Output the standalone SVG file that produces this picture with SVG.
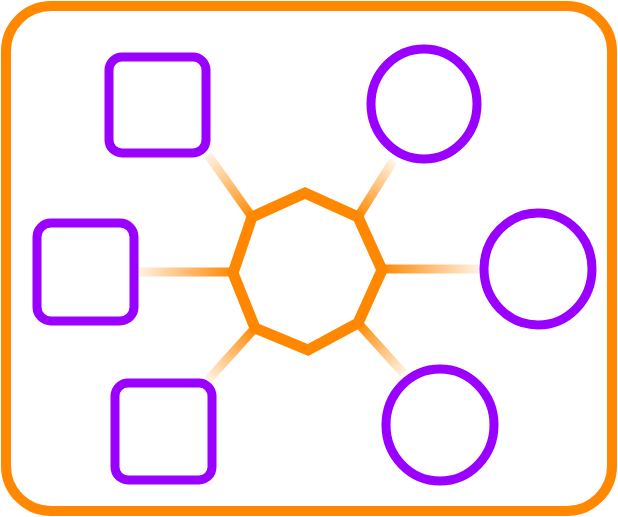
<svg xmlns="http://www.w3.org/2000/svg" width="618" height="517" viewBox="0 0 618 517">
<style>
.frame{fill:none;stroke:#ff8800;stroke-width:10}
.hub{fill:#ffffff;stroke:#ff8800;stroke-width:11;stroke-linejoin:miter}
.sq{fill:#ffffff;stroke:#9900ff;stroke-width:9}
.ci{fill:#ffffff;stroke:#9900ff;stroke-width:9}
.conn{stroke-width:9;fill:none}
</style>
<defs>
<linearGradient id="g1" gradientUnits="userSpaceOnUse" x1="208" y1="155" x2="252" y2="217"><stop offset="0" stop-color="#ff8800" stop-opacity="0.1"/><stop offset="1" stop-color="#ff8800" stop-opacity="1"/></linearGradient>
<linearGradient id="g2" gradientUnits="userSpaceOnUse" x1="138" y1="272" x2="233" y2="272"><stop offset="0" stop-color="#ff8800" stop-opacity="0.1"/><stop offset="1" stop-color="#ff8800" stop-opacity="1"/></linearGradient>
<linearGradient id="g3" gradientUnits="userSpaceOnUse" x1="208" y1="380" x2="255" y2="328"><stop offset="0" stop-color="#ff8800" stop-opacity="0.1"/><stop offset="1" stop-color="#ff8800" stop-opacity="1"/></linearGradient>
<linearGradient id="g4" gradientUnits="userSpaceOnUse" x1="393" y1="161" x2="358" y2="217"><stop offset="0" stop-color="#ff8800" stop-opacity="0.1"/><stop offset="1" stop-color="#ff8800" stop-opacity="1"/></linearGradient>
<linearGradient id="g5" gradientUnits="userSpaceOnUse" x1="480" y1="269" x2="382" y2="269"><stop offset="0" stop-color="#ff8800" stop-opacity="0.1"/><stop offset="1" stop-color="#ff8800" stop-opacity="1"/></linearGradient>
<linearGradient id="g6" gradientUnits="userSpaceOnUse" x1="404" y1="374" x2="358" y2="323"><stop offset="0" stop-color="#ff8800" stop-opacity="0.1"/><stop offset="1" stop-color="#ff8800" stop-opacity="1"/></linearGradient>
</defs>
<rect id="frame" class="frame" x="6" y="6" width="606" height="505" rx="45" ry="45"/>
<g id="connectors">
<line class="conn" stroke="url(#g1)" x1="208" y1="155" x2="252" y2="217"/>
<line class="conn" stroke="url(#g2)" x1="138" y1="272" x2="233" y2="272"/>
<line class="conn" stroke="url(#g3)" x1="208" y1="380" x2="255" y2="328"/>
<line class="conn" stroke="url(#g4)" x1="393" y1="161" x2="358" y2="217"/>
<line class="conn" stroke="url(#g5)" x1="480" y1="269" x2="382" y2="269"/>
<line class="conn" stroke="url(#g6)" x1="404" y1="374" x2="358" y2="323"/>
</g>
<g id="hub"><polygon class="hub" points="305,193 358,217 382,270 358,323 308,350 255,328 233,273 252,217"/></g>
<g id="sq1"><rect class="sq" x="109" y="57" width="97" height="96" rx="13"/></g>
<g id="sq2"><rect class="sq" x="37" y="223" width="97" height="98" rx="14"/></g>
<g id="sq3"><rect class="sq" x="115" y="383" width="97" height="97" rx="13"/></g>
<g id="ci1"><ellipse class="ci" cx="424" cy="104" rx="53" ry="55"/></g>
<g id="ci2"><ellipse class="ci" cx="538" cy="269" rx="54" ry="56"/></g>
<g id="ci3"><ellipse class="ci" cx="440" cy="425" rx="54" ry="56"/></g>
</svg>
